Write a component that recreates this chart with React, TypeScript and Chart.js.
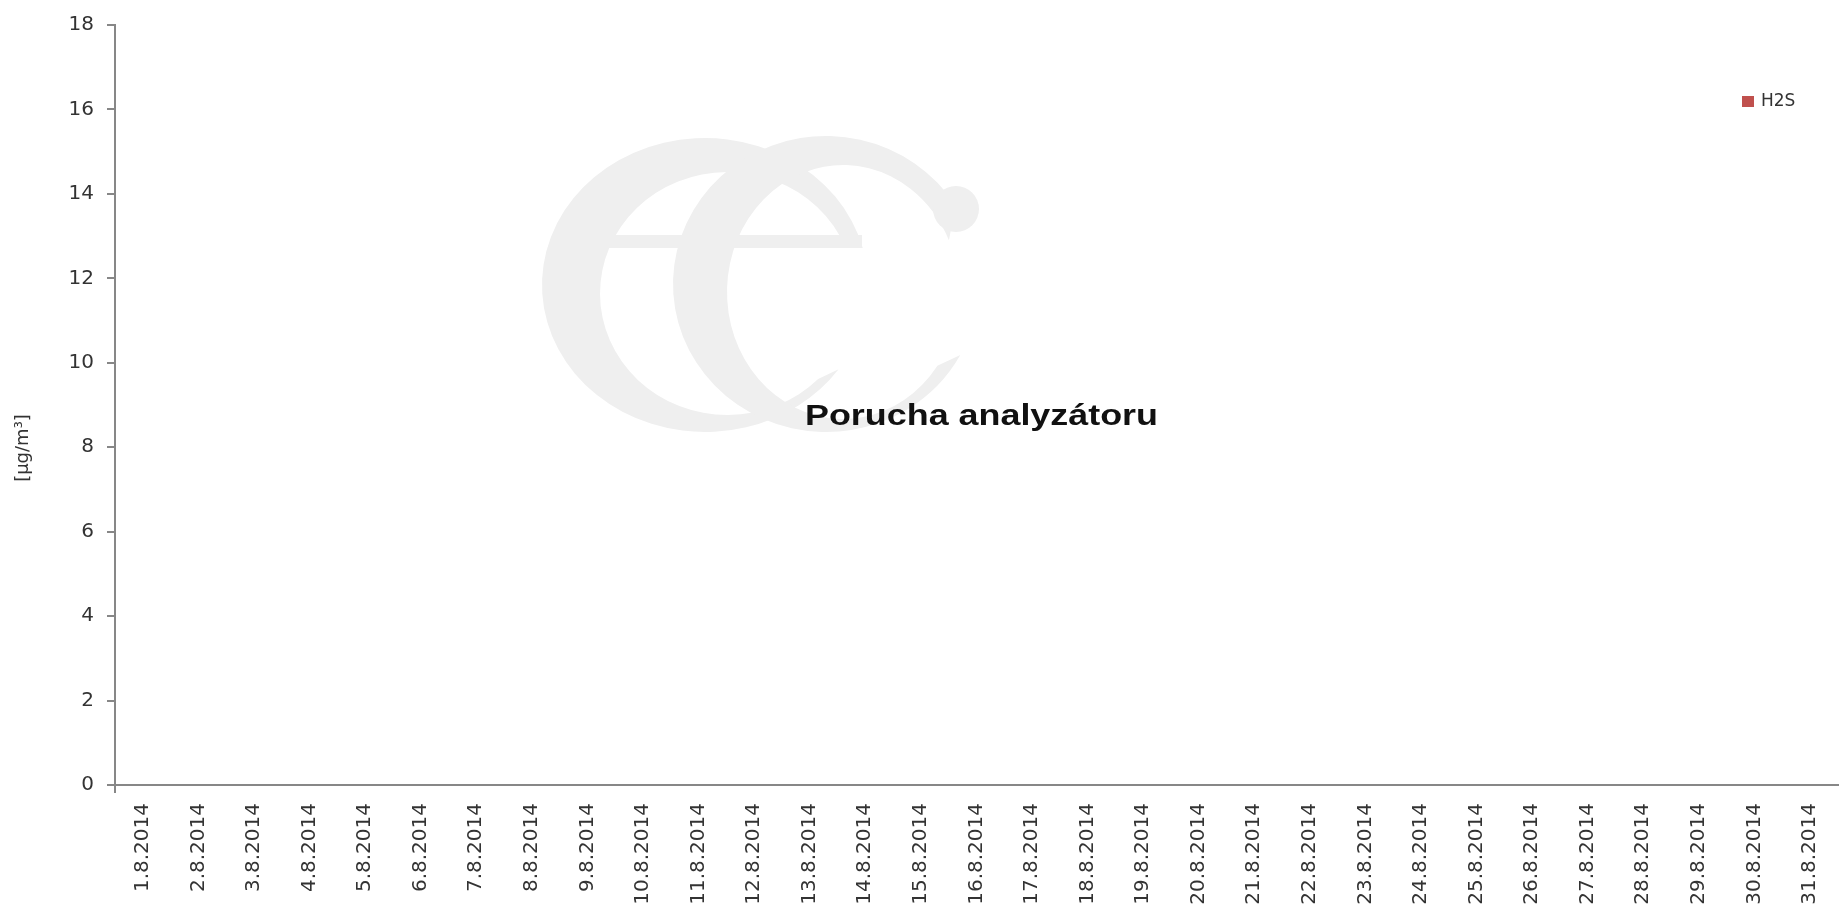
import React, { useEffect, useRef } from 'react';
import { Chart, registerables } from 'chart.js';

Chart.register(...registerables);

const categories: string[] = [
  '1.8.2014', '2.8.2014', '3.8.2014', '4.8.2014', '5.8.2014', '6.8.2014', '7.8.2014', '8.8.2014',
  '9.8.2014', '10.8.2014', '11.8.2014', '12.8.2014', '13.8.2014', '14.8.2014', '15.8.2014', '16.8.2014',
  '17.8.2014', '18.8.2014', '19.8.2014', '20.8.2014', '21.8.2014', '22.8.2014', '23.8.2014', '24.8.2014',
  '25.8.2014', '26.8.2014', '27.8.2014', '28.8.2014', '29.8.2014', '30.8.2014', '31.8.2014',
];

// Analyzer failure: no measured values for the whole month
const h2sValues: (number | null)[] = [
  null, null, null, null, null, null, null, null, null, null, null, null, null, null, null, null,
  null, null, null, null, null, null, null, null, null, null, null, null, null, null, null,
];

const seriesName = 'H2S';
const seriesColor = '#C0504D';
const yMin = 0;
const yMax = 18;
const yStep = 2;
const yTitle = '[µg/m³]';
const noteText = 'Porucha analyzátoru';

const AXIS_COLOR = '#878787';
const TEXT_COLOR = '#333333';
const TICK_FONT = '"DejaVu Sans", Verdana, sans-serif';

function crescent(ctx: CanvasRenderingContext2D,
  ocx: number, ocy: number, orx: number, ory: number, oStart: number, oEnd: number,
  icx: number, icy: number, irx: number, iry: number, iStart: number, iEnd: number) {
  ctx.beginPath();
  // outer contour, going anticlockwise (over the top, down the left, along the bottom)
  ctx.ellipse(ocx, ocy, orx, ory, 0, oStart, oEnd, true);
  // inner contour back
  ctx.ellipse(icx, icy, irx, iry, 0, iEnd, iStart, false);
  ctx.closePath();
  ctx.fill();
}

const watermarkPlugin = {
  id: 'watermark',
  beforeDraw(chart: any) {
    const ctx = chart.ctx as CanvasRenderingContext2D;
    ctx.save();
    ctx.fillStyle = '#efefef';
    // "e"
    crescent(ctx, 705, 285, 163, 147, -0.2545, 0.61 - 2 * Math.PI,
      727.5, 293.5, 127.5, 121.5, -0.384, 0.78 - 2 * Math.PI);
    ctx.fillRect(600, 235, 262, 13);
    // "c"
    crescent(ctx, 826, 284, 153, 148, -0.56, 0.5 - 2 * Math.PI,
      843, 292, 116, 127, -0.42, 0.62 - 2 * Math.PI);
    ctx.beginPath();
    ctx.arc(956, 209, 23, 0, Math.PI * 2);
    ctx.fill();
    ctx.restore();
  },
};

const overlayPlugin = {
  id: 'overlay',
  afterDraw(chart: any) {
    const ctx = chart.ctx as CanvasRenderingContext2D;
    // centre note
    ctx.save();
    ctx.font = 'bold 30px "Liberation Sans", Arial, sans-serif';
    ctx.fillStyle = '#111111';
    ctx.textBaseline = 'alphabetic';
    ctx.textAlign = 'left';
    const tw = ctx.measureText(noteText).width;
    const targetW = 353;
    ctx.translate(805, 425);
    ctx.scale(targetW / tw, 1);
    ctx.fillText(noteText, 0, 0);
    ctx.restore();

    // legend
    const ds = chart.data.datasets[0];
    ctx.save();
    ctx.fillStyle = ds.borderColor;
    ctx.fillRect(1742, 96, 12, 11);
    ctx.font = '17px ' + TICK_FONT;
    ctx.fillStyle = TEXT_COLOR;
    ctx.textBaseline = 'middle';
    ctx.textAlign = 'left';
    ctx.fillText(ds.label, 1761, 102);
    ctx.restore();

    // y-axis title
    ctx.save();
    ctx.translate(23, 448);
    ctx.rotate(-Math.PI / 2);
    ctx.font = '18px ' + TICK_FONT;
    ctx.fillStyle = TEXT_COLOR;
    ctx.textAlign = 'center';
    ctx.textBaseline = 'middle';
    ctx.fillText(yTitle, 0, 0);
    ctx.restore();
  },
};

export default function App() {
  const ref = useRef<HTMLCanvasElement | null>(null);

  useEffect(() => {
    document.body.style.margin = '0';
    document.body.style.overflow = 'hidden';
    const canvas = ref.current;
    if (!canvas) return;
    const n = categories.length;
    const chart = new Chart(canvas, {
      type: 'line',
      data: {
        labels: categories,
        datasets: [
          {
            label: seriesName,
            data: h2sValues,
            borderColor: seriesColor,
            backgroundColor: seriesColor,
            pointRadius: 0,
            spanGaps: false,
          },
        ],
      },
      options: {
        responsive: false,
        animation: false,
        devicePixelRatio: 1,
        layout: { padding: { top: 20, right: 1, left: 0, bottom: 0 } },
        plugins: {
          legend: { display: false },
          tooltip: { enabled: false },
          title: { display: false },
        },
        scales: {
          x: {
            type: 'category',
            offset: true,
            border: { display: true, color: AXIS_COLOR, width: 2 },
            grid: {
              offset: true,
              drawOnChartArea: false,
              drawTicks: true,
              tickLength: 8,
              lineWidth: 2,
              color: (c: any) => (c.index === 0 || c.index >= n ? AXIS_COLOR : 'rgba(0,0,0,0)'),
            },
            ticks: {
              autoSkip: false,
              maxRotation: 90,
              minRotation: 90,
              padding: 10,
              color: TEXT_COLOR,
              font: { family: TICK_FONT, size: 20 },
            },
            afterFit: (s: any) => { s.height = 128; },
          },
          y: {
            min: yMin,
            max: yMax,
            border: { display: true, color: AXIS_COLOR, width: 2 },
            grid: {
              drawOnChartArea: false,
              drawTicks: true,
              tickLength: 8,
              lineWidth: 2,
              color: AXIS_COLOR,
            },
            ticks: {
              stepSize: yStep,
              padding: 13,
              color: TEXT_COLOR,
              font: { family: TICK_FONT, size: 20 },
            },
            afterFit: (s: any) => { s.width = 115; },
          },
        },
      },
      plugins: [watermarkPlugin, overlayPlugin],
    } as any);
    return () => chart.destroy();
  }, []);

  return (
    <div style={{ width: 1844, height: 913, background: '#ffffff' }}>
      <canvas ref={ref} width={1844} height={913} style={{ display: 'block' }} />
    </div>
  );
}
